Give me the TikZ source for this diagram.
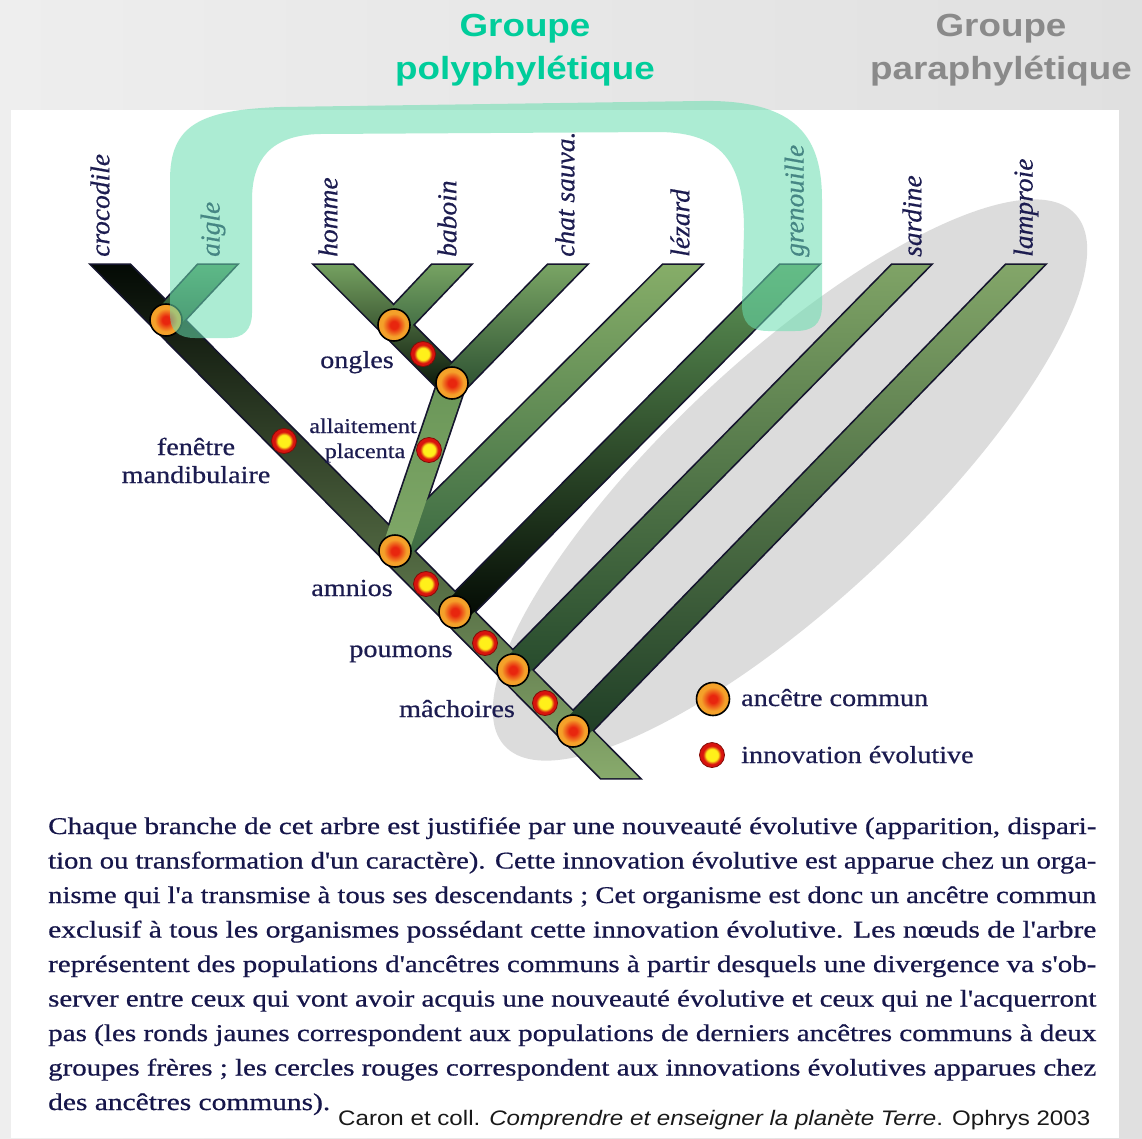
\documentclass[tikz,border=0pt]{standalone}
\usepackage{fontspec}
\usepackage{graphicx}
\setmainfont{Liberation Serif}
\newfontfamily\labfont[FakeStretch=1.15,FakeBold=0.6]{Liberation Serif}
\newfontfamily\spfont[FakeBold=0.5]{Liberation Serif}
\newfontfamily\bodyfont[FakeBold=0.6]{Liberation Serif}
\newfontfamily\hdfont[FakeStretch=1.15]{Liberation Sans}
\newfontfamily\citefont{Liberation Sans}
\usetikzlibrary{calc}

\definecolor{bgl}{HTML}{EEEEEE}
\definecolor{bgr}{HTML}{E0E0E0}
\definecolor{ellgrey}{HTML}{DCDCDC}
\definecolor{mint}{RGB}{105,222,175}
\definecolor{hdteal}{RGB}{0,205,155}
\definecolor{hdgrey}{HTML}{8A8A8A}
\definecolor{labnavy}{HTML}{1C1C50}
\definecolor{bodynavy}{HTML}{16164A}
\definecolor{outc}{HTML}{15152E}
\definecolor{ancred}{HTML}{E8260E}
\definecolor{ancorange}{HTML}{F4A12A}
\definecolor{innyellow}{HTML}{FFF01A}
\definecolor{innred}{HTML}{D8140E}

\pgfdeclareradialshading{ancshade}{\pgfpoint{0bp}{0bp}}{color(0bp)=(ancred); color(6bp)=(ancred); color(18bp)=(ancorange); color(25bp)=(ancorange); color(50bp)=(ancorange)}
\pgfdeclareradialshading{innshade}{\pgfpoint{0bp}{0bp}}{color(0bp)=(innyellow); color(12bp)=(innyellow); color(18bp)=(innred); color(25bp)=(innred); color(50bp)=(innred)}

\newcommand\brpts[5]{\coordinate (#1-1) at #2; \coordinate (#1-2) at #3; \coordinate (#1-3) at #4; \coordinate (#1-4) at #5;}
\newcommand\bline[3]{\node[anchor=base west,inner sep=0,text=bodynavy] (#1) at #2 {\resizebox{1048pt}{\height}{\fontsize{24}{28}\selectfont\bodyfont #3}};}

\tikzset{
  outl/.style={draw=outc, line width=3.4pt, line join=miter},
  ancnode/.style={circle, minimum size=32pt, inner sep=0pt, shading=ancshade, draw=black, line width=1.6pt},
  innnode/.style={circle, minimum size=25pt, inner sep=0pt, shading=innshade, draw=innred!60!black, line width=0.8pt},
  lab/.style={text=labnavy, inner sep=0pt, font=\labfont\fontsize{24.5}{28}\selectfont},
  smalllab/.style={text=labnavy, inner sep=0pt, font=\labfont\fontsize{21}{24}\selectfont},
  species/.style={text=labnavy, inner sep=0pt, rotate=90, anchor=west, font=\spfont\itshape\fontsize{27.5}{30}\selectfont},
  hdg/.style={inner sep=0pt, anchor=base, font=\hdfont\bfseries\fontsize{32}{36}\selectfont},
}

\begin{document}
\begin{tikzpicture}[x=1pt,y=-1pt]
\useasboundingbox (0,0) rectangle (1142,1138);
% background and panel
\shade[left color=bgl, right color=bgr] (0,0) rectangle (1142,1138);
\fill[white] (11,110) rectangle (1119,1138);

% paraphyletic ellipse (behind the tree)
\fill[ellgrey, rotate around={43:(790,480)}] (790,480) ellipse [x radius=390pt, y radius=122pt];

% branch polygons
\brpts{trunk}{(92,265)}{(130,265)}{(639,778)}{(601,778)}
\brpts{aigle}{(156.3,310.6)}{(198,265)}{(236,265)}{(175.7,329.4)}
\brpts{homme}{(442.5,392.5)}{(315,265)}{(353,265)}{(461.5,373.5)}
\brpts{baboin}{(384.2,315.7)}{(432,265)}{(470,265)}{(403.8,334.3)}
\brpts{chat}{(442.3,373.6)}{(548,265)}{(586,265)}{(461.7,392.4)}
\brpts{lezard}{(385.5,541.4)}{(663,265)}{(701,265)}{(404.5,560.6)}
\brpts{gren}{(445.4,602.5)}{(780,265)}{(818,265)}{(464.6,621.5)}
\brpts{sard}{(503.4,660.5)}{(892,265)}{(930,265)}{(522.6,679.5)}
\brpts{lamp}{(563.3,721.6)}{(1006,265)}{(1044,265)}{(582.7,740.4)}
\brpts{steep}{(382.2,546.7)}{(439.2,378.7)}{(464.8,387.3)}{(407.8,555.3)}

% outline pass (union outline)
\foreach \b in {trunk,aigle,homme,baboin,chat,lezard,gren,sard,lamp,steep}
  {\draw[outl] (\b-1) -- (\b-2) -- (\b-3) -- (\b-4) -- cycle;}

% fill pass
\shade[top color={rgb,255:red,4;green,10;blue,5}, middle color={rgb,255:red,50;green,88;blue,54}, bottom color={rgb,255:red,136;green,170;blue,108}] (trunk-1) -- (trunk-2) -- (trunk-3) -- (trunk-4) -- cycle;
\shade[top color={rgb,255:red,80;green,140;blue,88}, bottom color={rgb,255:red,37;green,71;blue,44}] (aigle-1) -- (aigle-2) -- (aigle-3) -- (aigle-4) -- cycle;
\shade[top color={rgb,255:red,116;green,160;blue,96}, middle color={rgb,255:red,42;green,76;blue,48}, bottom color={rgb,255:red,8;green,20;blue,8}] (homme-1) -- (homme-2) -- (homme-3) -- (homme-4) -- cycle;
\shade[top color={rgb,255:red,118;green,162;blue,98}, bottom color={rgb,255:red,63;green,106;blue,66}] (baboin-1) -- (baboin-2) -- (baboin-3) -- (baboin-4) -- cycle;
\shade[top color={rgb,255:red,121;green,164;blue,100}, bottom color={rgb,255:red,44;green,80;blue,49}] (chat-1) -- (chat-2) -- (chat-3) -- (chat-4) -- cycle;
\shade[top color={rgb,255:red,134;green,173;blue,104}, middle color={rgb,255:red,110;green,154;blue,90}, bottom color={rgb,255:red,60;green,106;blue,66}] (lezard-1) -- (lezard-2) -- (lezard-3) -- (lezard-4) -- cycle;
\shade[top color={rgb,255:red,93;green,148;blue,86}, middle color={rgb,255:red,29;green,59;blue,34}, bottom color={rgb,255:red,3;green,9;blue,3}] (gren-1) -- (gren-2) -- (gren-3) -- (gren-4) -- cycle;
\shade[top color={rgb,255:red,127;green,163;blue,102}, bottom color={rgb,255:red,38;green,74;blue,44}] (sard-1) -- (sard-2) -- (sard-3) -- (sard-4) -- cycle;
\shade[top color={rgb,255:red,131;green,166;blue,105}, bottom color={rgb,255:red,30;green,61;blue,37}] (lamp-1) -- (lamp-2) -- (lamp-3) -- (lamp-4) -- cycle;
\shade[top color={rgb,255:red,106;green,150;blue,88}, bottom color={rgb,255:red,128;green,168;blue,104}] (steep-1) -- (steep-2) -- (steep-3) -- (steep-4) -- cycle;

% ancestor nodes
\node[ancnode] (n1) at (166,320) {};
\node[ancnode] (n7) at (394,325) {};
\node[ancnode] (n6) at (452,383) {};
\node[ancnode] (n2) at (395,551) {};
\node[ancnode] (n3) at (455,612) {};
\node[ancnode] (n4) at (513,670) {};
\node[ancnode] (n5) at (573,731) {};
% innovation nodes
\node[innnode] (iong) at (423,354) {};
\node[innnode] (ifen) at (284,441) {};
\node[innnode] (iall) at (429,450) {};
\node[innnode] (iamn) at (426,584) {};
\node[innnode] (ipou) at (485,643) {};
\node[innnode] (imac) at (545,703) {};

% character labels
\node[lab, anchor=base] (ongles) at (357,368) {ongles};
\node[lab, anchor=base] (fen) at (196,455) {fenêtre};
\node[lab, anchor=base] (mand) at (196,483) {mandibulaire};
\node[smalllab, anchor=base] (allait) at (363,433) {allaitement};
\node[smalllab, anchor=base] (plac) at (365,458) {placenta};
\node[lab, anchor=base] (amn) at (352,596) {amnios};
\node[lab, anchor=base] (poum) at (401,657) {poumons};
\node[lab, anchor=base] (mach) at (457,717) {mâchoires};

% species labels
\node[species] (sp1) at (100,257) {crocodile};
\node[species] (sp2) at (213,257) {aigle};
\node[species] (sp3) at (328,257) {homme};
\node[species] (sp4) at (447,257) {baboin};
\node[species] (sp5) at (565,257) {chat sauva.};
\node[species] (sp6) at (680,257) {lézard};
\node[species] (sp7) at (797,257) {grenouille};
\node[species] (sp8) at (912,257) {sardine};
\node[species] (sp9) at (1026,257) {lamproie};

% legend
\node[ancnode, minimum size=33pt] (lgA) at (713,699) {};
\node[innnode] (lgI) at (712,755) {};
\node[lab, anchor=base west] (lgAt) at (741,706) {ancêtre commun};
\node[lab, anchor=base west] (lgIt) at (741,763) {innovation évolutive};

% polyphyletic mint overlay
\fill[mint, opacity=0.55]
  (170,315) -- (170,180) .. controls (170,125) and (200,110) .. (280,107)
  -- (700,101) .. controls (800,99) and (822,140) .. (822,200)
  -- (822,305) .. controls (822,325) and (812,331) .. (795,331)
  -- (768,331) .. controls (750,331) and (742,322) .. (742,305)
  -- (744,230) .. controls (744,160) and (720,133) .. (660,132)
  -- (320,134) .. controls (270,135) and (252,160) .. (252,200)
  -- (252,313) .. controls (252,330) and (243,338) .. (228,338)
  -- (195,338) .. controls (178,338) and (170,330) .. (170,315) -- cycle;

% headers
\node[hdg, text=hdteal] (h1) at (525,36) {Groupe};
\node[hdg, text=hdteal] (h2) at (525,79) {polyphylétique};
\node[hdg, text=hdgrey] (h3) at (1001,36) {Groupe};
\node[hdg, text=hdgrey] (h4) at (1001,79) {paraphylétique};

% body text
\bline{b1}{(48,834)}{Chaque branche de cet arbre est justifiée par une nouveauté évolutive (apparition, dispari-}
\bline{b2}{(48,868.5)}{tion ou transformation d'un caractère). Cette innovation évolutive est apparue chez un orga-}
\bline{b3}{(48,903)}{nisme qui l'a transmise à tous ses descendants ; Cet organisme est donc un ancêtre commun}
\bline{b4}{(48,937.5)}{exclusif à tous les organismes possédant cette innovation évolutive. Les nœuds de l'arbre}
\bline{b5}{(48,972)}{représentent des populations d'ancêtres communs à partir desquels une divergence va s'ob-}
\bline{b6}{(48,1006.5)}{server entre ceux qui vont avoir acquis une nouveauté évolutive et ceux qui ne l'acquerront}
\bline{b7}{(48,1041)}{pas (les ronds jaunes correspondent aux populations de derniers ancêtres communs à deux}
\bline{b8}{(48,1075.5)}{groupes frères ; les cercles rouges correspondent aux innovations évolutives apparues chez}
\node[anchor=base west,inner sep=0pt,text=bodynavy] (b9) at (48,1110) {\resizebox{282pt}{\height}{\fontsize{24}{28}\selectfont\bodyfont des ancêtres communs).}};
\node[anchor=base west,inner sep=0pt,text=black!90] (cite) at (338,1125) {\resizebox{752pt}{\height}{\fontsize{21}{25}\selectfont\citefont Caron et coll. \textit{Comprendre et enseigner la planète Terre}. Ophrys 2003}};
\end{tikzpicture}
\end{document}
